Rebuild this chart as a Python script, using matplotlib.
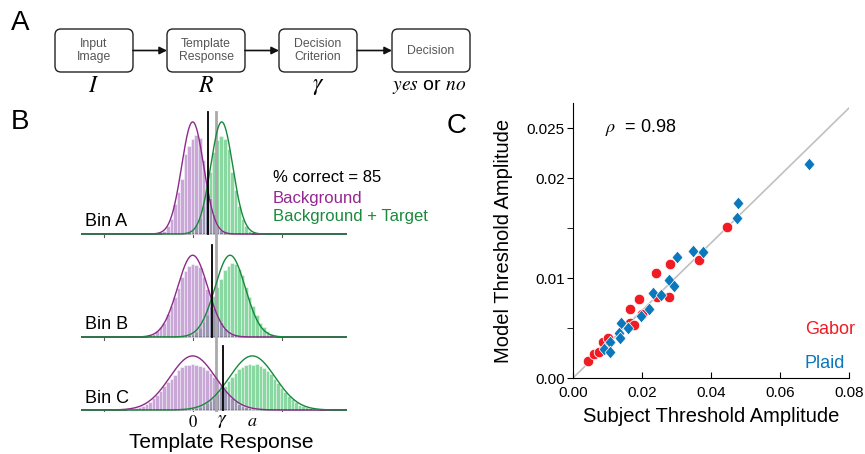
import numpy as np
import matplotlib
matplotlib.use('Agg')
import matplotlib.pyplot as plt
from matplotlib.patches import FancyBboxPatch
from matplotlib.path import Path

plt.rcParams['font.family'] = ['Liberation Sans', 'DejaVu Sans']
plt.rcParams['mathtext.fontset'] = 'stix'

# ---------------- data ----------------
# Panel A
stage_boxes = ['Input\nImage', 'Template\nResponse', 'Decision\nCriterion', 'Decision']
stage_symbols = [r'$I$', r'$R$', r'$\gamma$', r'$yes$ or $no$']

# Panel B (template response units; bar heights in histogram counts scale)
bin_names = ['Bin A', 'Bin B', 'Bin C']
bg_mean = [0.0, 0.0, 0.0]
tg_mean = [0.326, 0.42, 0.67]
resp_sd = [0.124, 0.17, 0.257]
curve_area = 13.9
criterion = [0.169, 0.22, 0.344]
pooled_criterion = 0.26
bin_width = 0.04

bgA_start, tgA_start = -0.32, 0.00
bgA = [3, 8, 15, 30, 42, 55, 80, 88, 95, 99, 96, 74, 50, 36, 20, 9, 4]
tgA = [4, 9, 16, 28, 46, 62, 82, 94, 98, 95, 85, 62, 44, 28, 15, 8, 3]
bgB_start, tgB_start = -0.48, -0.04
bgB = [2, 3, 6, 10, 14, 23, 31, 40, 49, 60, 66, 71, 73, 72, 70, 60, 48, 41, 29, 21, 15, 9, 6, 3, 2]
tgB = [2, 3, 5, 9, 15, 22, 30, 41, 50, 58, 67, 71, 74, 73, 68, 62, 50, 40, 31, 22, 14, 10, 6, 3, 2]
bgC_start, tgC_start = -0.72, -0.04
bgC = [1, 1, 2, 3, 4, 6, 8, 12, 15, 19, 24, 28, 31, 35, 40, 43, 45, 45, 46, 45,
       44, 43, 40, 37, 33, 29, 25, 20, 16, 12, 9, 6, 4, 3, 2, 1, 1]
tgC = [1, 2, 2, 3, 5, 7, 9, 12, 16, 20, 24, 29, 33, 37, 41, 43, 45, 46, 45, 46,
       44, 42, 39, 36, 31, 27, 22, 18, 14, 11, 8, 5, 4, 3, 2, 1, 1]
percent_correct = 85

# Panel C
gabor_subject = [0.0044, 0.0061, 0.0075, 0.0091, 0.0088, 0.0101, 0.0165, 0.0178, 0.0165,
                 0.0191, 0.0200, 0.0243, 0.0277, 0.0240, 0.0281, 0.0365, 0.0445]
gabor_model = [0.00173, 0.0024, 0.0026, 0.0033, 0.0036, 0.0040, 0.0055, 0.0053, 0.0069,
               0.0079, 0.0064, 0.0081, 0.0081, 0.0105, 0.0114, 0.0118, 0.0151]
plaid_subject = [0.0685, 0.0479, 0.0476, 0.0349, 0.0376, 0.0301, 0.0277, 0.0294, 0.0231,
                 0.0255, 0.0221, 0.0197, 0.0140, 0.0160, 0.0134, 0.0136, 0.0107, 0.0090, 0.0107]
plaid_model = [0.0214, 0.0175, 0.0160, 0.0127, 0.0126, 0.0121, 0.0098, 0.0092, 0.0085,
               0.0083, 0.0069, 0.0062, 0.0055, 0.0050, 0.0045, 0.0040, 0.0036, 0.0029, 0.0026]
fit_slope = 0.3375
rho = 0.98
x_ticks = [0.0, 0.02, 0.04, 0.06, 0.08]
x_ticklabels = ['0.00', '0.02', '0.04', '0.06', '0.08']
y_ticks = [0.0, 0.01, 0.02, 0.025]
y_ticklabels = ['0.00', '0.01', '0.02', '0.025']
y_minor = [0.005, 0.015]

# ---------------- figure ----------------
W, H = 865, 454
fig = plt.figure(figsize=(W / 100, H / 100), dpi=100)

# overlay axes in pixel coordinates for panel A and panel letters
ov = fig.add_axes([0, 0, 1, 1])
ov.set_xlim(0, W)
ov.set_ylim(H, 0)
ov.axis('off')

for lab, (x, y) in zip(['A', 'B', 'C'], [(11, 23), (11, 122), (447, 126)]):
    ov.text(x, y, lab, fontsize=20, ha='left', va='center')

box_x = [55, 167, 279, 392]
box_w, box_top, box_h = 78, 29, 43
for i, (bx, lab) in enumerate(zip(box_x, stage_boxes)):
    p = FancyBboxPatch((bx, box_top), box_w, box_h,
                       boxstyle='round,pad=0,rounding_size=6',
                       fc='white', ec='#222222', lw=1.0)
    ov.add_patch(p)
    ov.text(bx + box_w / 2, box_top + box_h / 2, lab, ha='center', va='center',
            fontsize=8.8, color='#555555', linespacing=1.1)
    ov.text(bx + box_w / 2 - (0 if i < 3 else 2), 86, stage_symbols[i], ha='center',
            va='center', fontsize=17 if i < 3 else 14)
    if i < 3:
        ov.annotate('', xy=(box_x[i + 1], box_top + box_h / 2),
                    xytext=(bx + box_w, box_top + box_h / 2),
                    arrowprops=dict(arrowstyle='-|>', color='#111111', lw=1.2,
                                    mutation_scale=11, shrinkA=0, shrinkB=0))

# ---------------- panel B ----------------
axB = fig.add_axes([81 / W, (H - 412) / H, 266 / W, 306 / H])
xmin, xmax = -1.255, 1.734
axB.set_xlim(xmin, xmax)
axB.set_ylim(-2, 304)
axB.axis('off')

baselines = [176, 73, 0]
bg_sets = [(bgA_start, bgA), (bgB_start, bgB), (bgC_start, bgC)]
tg_sets = [(tgA_start, tgA), (tgB_start, tgB), (tgC_start, tgC)]
bar_purple = '#a56cbd'
bar_green = '#3cbf62'
line_purple = '#8b2a8b'
line_green = '#17893a'
xx = np.linspace(xmin, xmax, 800)
for i in range(3):
    base = baselines[i]
    axB.plot([xmin, xmax], [base, base], color='#5a5a5a', lw=1.3, zorder=1)
    for t in (-1, 0, 1):
        axB.plot([t, t], [base, base - 3], color='#5a5a5a', lw=0.8, zorder=1)
    s0, h = tg_sets[i]
    c = s0 + bin_width * np.arange(len(h))
    axB.bar(c, h, width=bin_width, bottom=base, color=bar_green, alpha=0.6,
            edgecolor='white', lw=0.5, zorder=2)
    s0, h = bg_sets[i]
    c = s0 + bin_width * np.arange(len(h))
    axB.bar(c, h, width=bin_width, bottom=base, color=bar_purple, alpha=0.6,
            edgecolor='white', lw=0.5, zorder=2)
    amp = curve_area / resp_sd[i]
    axB.plot(xx, base + amp * np.exp(-0.5 * ((xx - bg_mean[i]) / resp_sd[i]) ** 2),
             color=line_purple, lw=1.0, zorder=4)
    axB.plot(xx, base + amp * np.exp(-0.5 * ((xx - tg_mean[i]) / resp_sd[i]) ** 2),
             color=line_green, lw=1.0, zorder=4)
    top = base + amp + 10
    axB.plot([criterion[i], criterion[i]], [base, top], color='black', lw=1.3, zorder=5)

axB.plot([pooled_criterion, pooled_criterion], [-3, 298], color='#aaaaaa', lw=2.0, zorder=3)

label_y = [184, 81, 7]
for i in range(3):
    axB.text(-1.215, label_y[i], bin_names[i], fontsize=13, ha='left', va='baseline',
             zorder=6)

axB.text(0.902, 233, f'% correct = {percent_correct}', fontsize=12, va='center')
axB.text(0.902, 211, 'Background', fontsize=12, va='center', color='#93278f')
axB.text(0.902, 193, 'Background + Target', fontsize=12, va='center', color='#1a8a3c')

axB.text(0.0, -12, r'$\mathrm{0}$', fontsize=12, ha='center', va='center')
axB.text(criterion[2] - 0.01, -12, r'$\gamma$', fontsize=14, ha='center', va='center')
axB.text(tg_mean[2], -12, r'$a$', fontsize=13, ha='center', va='center')
axB.text(0.32, -32, 'Template Response', fontsize=15, ha='center', va='center',
         clip_on=False)

# ---------------- panel C ----------------
axC = fig.add_axes([573 / W, (H - 378) / H, 276 / W, 275 / H])
axC.set_xlim(0, 0.08)
axC.set_ylim(0, 0.0275)
axC.plot([0, 0.08], [0, 0.08 * fit_slope], color='#c0c0c0', lw=1.2, zorder=1)
axC.scatter(gabor_subject, gabor_model, s=58, marker='o', color='#f01c24',
            edgecolor='white', lw=0.6, zorder=3)
dverts = [(0, 1), (0.85, 0), (0, -1), (-0.85, 0), (0, 1)]
dmark = Path(dverts, [Path.MOVETO, Path.LINETO, Path.LINETO, Path.LINETO, Path.CLOSEPOLY])
axC.scatter(plaid_subject, plaid_model, s=85, marker=dmark, color='#0b77bc',
            edgecolor='white', lw=0.5, zorder=4)
for sp in ('top', 'right'):
    axC.spines[sp].set_visible(False)
axC.set_xticks(x_ticks)
axC.set_xticklabels(x_ticklabels)
axC.set_yticks(y_ticks)
axC.set_yticklabels(y_ticklabels)
axC.set_yticks(y_minor, minor=True)
axC.tick_params(axis='x', direction='in', length=4, pad=6, labelsize=11)
axC.tick_params(axis='y', which='both', direction='out', length=4, pad=2, labelsize=11)
axC.set_xlabel('Subject Threshold Amplitude', fontsize=14.5, labelpad=5)
axC.set_ylabel('Model Threshold Amplitude', fontsize=14.5, labelpad=10)
axC.text(0.0093, 0.0251, r'$\rho$' + '  = ' + f'{rho:.2f}', fontsize=13, va='center')
axC.text(0.0672, 0.0048, 'Gabor', fontsize=13, color='#f01c24', va='center')
axC.text(0.0672, 0.0015, 'Plaid', fontsize=13, color='#0b77bc', va='center')

fig.savefig('out.png', dpi=100)
